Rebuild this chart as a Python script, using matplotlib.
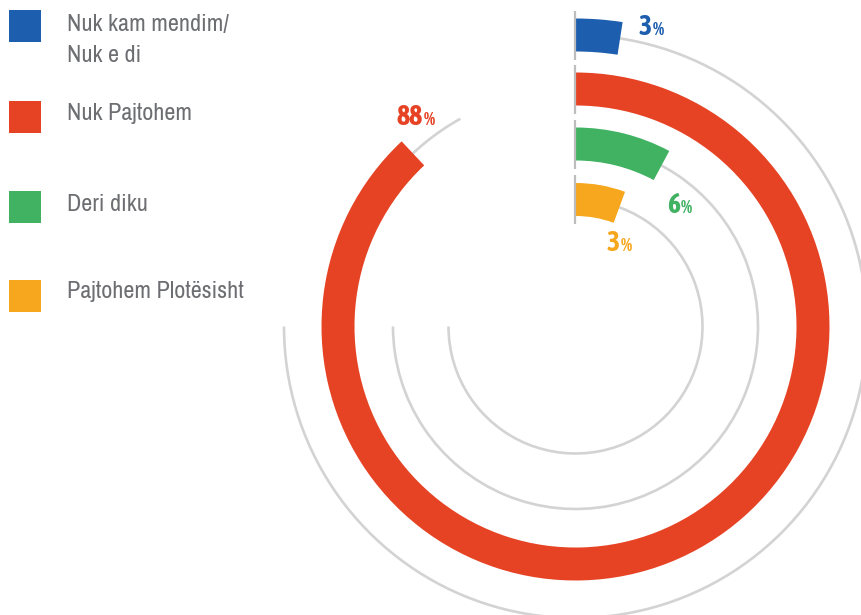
import matplotlib
matplotlib.use("Agg")
import matplotlib.pyplot as plt
from matplotlib.patches import Wedge, Arc, Rectangle
from matplotlib import font_manager

# ---- data ----
categories = ["Nuk kam mendim/\nNuk e di", "Nuk Pajtohem", "Deri diku", "Pajtohem Plotësisht"]
values = [3, 88, 6, 3]
labels = ["3", "88", "6", "3"]
colors = ["#1d5fae", "#e64325", "#40b262", "#f6a71d"]

# ---- layout ----
W, H = 862, 615
fig = plt.figure(figsize=(W / 100, H / 100), dpi=100)
ax = fig.add_axes([0, 0, 1, 1])
ax.set_xlim(0, W)
ax.set_ylim(0, H)
ax.axis("off")

def wnum(w):
    if isinstance(w, (int, float)):
        return w
    return font_manager.weight_dict.get(str(w).lower(), 400)

entries = font_manager.fontManager.ttflist
cond_name, bold_name = None, None
for f in entries:
    if "Condensed" in f.name or "Narrow" in f.name:
        if cond_name is None and wnum(f.weight) <= 400:
            cond_name = f.name
        if bold_name is None and wnum(f.weight) >= 600:
            bold_name = f.name
if cond_name is None:
    cond_name = "Roboto"
    leg_fs = 15
else:
    leg_fs = 17.4
if bold_name is None:
    bold_name = cond_name if cond_name != "Roboto" else "Roboto"
fam = [cond_name, "DejaVu Sans"]
bfam = [bold_name, "DejaVu Sans"]

cx, cy = 575.5, H - 326.5
radii = [291.5, 237.5, 182.5, 127.0]
thick = 33
track_end = [270, 331, 270, 270]
ref_r = radii[1]

def py(y):
    return H - y

for i, (v, col) in enumerate(zip(values, colors)):
    r = radii[i]
    ax.add_patch(Arc((cx, cy), 2 * r, 2 * r, theta1=90 - track_end[i], theta2=90,
                     color="#d3d3d3", lw=1.9, zorder=1))
    ang = v / 100 * 360 * ref_r / r
    ax.add_patch(Wedge((cx, cy), r + thick / 2, 90 - ang, 90, width=thick,
                       facecolor=col, edgecolor="none", zorder=2))
    ax.plot([cx, cx], [cy + r - thick / 2 - 8, cy + r + thick / 2 + 8],
            color="#bdbdbd", lw=1.6, zorder=3, solid_capstyle="butt")

lab_pos = [(652, 35), (423, 125), (680, 213), (620, 251)]
for (x, y), lab, col in zip(lab_pos, labels, colors):
    ax.text(x, py(y), lab, ha="right", va="baseline", fontsize=20, fontweight="bold",
            color=col, family=bfam)
    ax.text(x + 0.5, py(y), "%", ha="left", va="baseline", fontsize=13, fontweight="bold",
            color=col, family=bfam)

sq_top = [10, 101, 191, 280]
txt_base = [31, 120, 211, 298]
for i, (cat, col) in enumerate(zip(categories, colors)):
    ax.add_patch(Rectangle((9, py(sq_top[i] + 32)), 32, 32, facecolor=col, edgecolor="none"))
    for j, line in enumerate(cat.split("\n")):
        ax.text(67, py(txt_base[i] + 31 * j), line, ha="left", va="baseline",
                fontsize=leg_fs, color="#6d6e71", family=fam)

fig.savefig("out.png", dpi=100)
